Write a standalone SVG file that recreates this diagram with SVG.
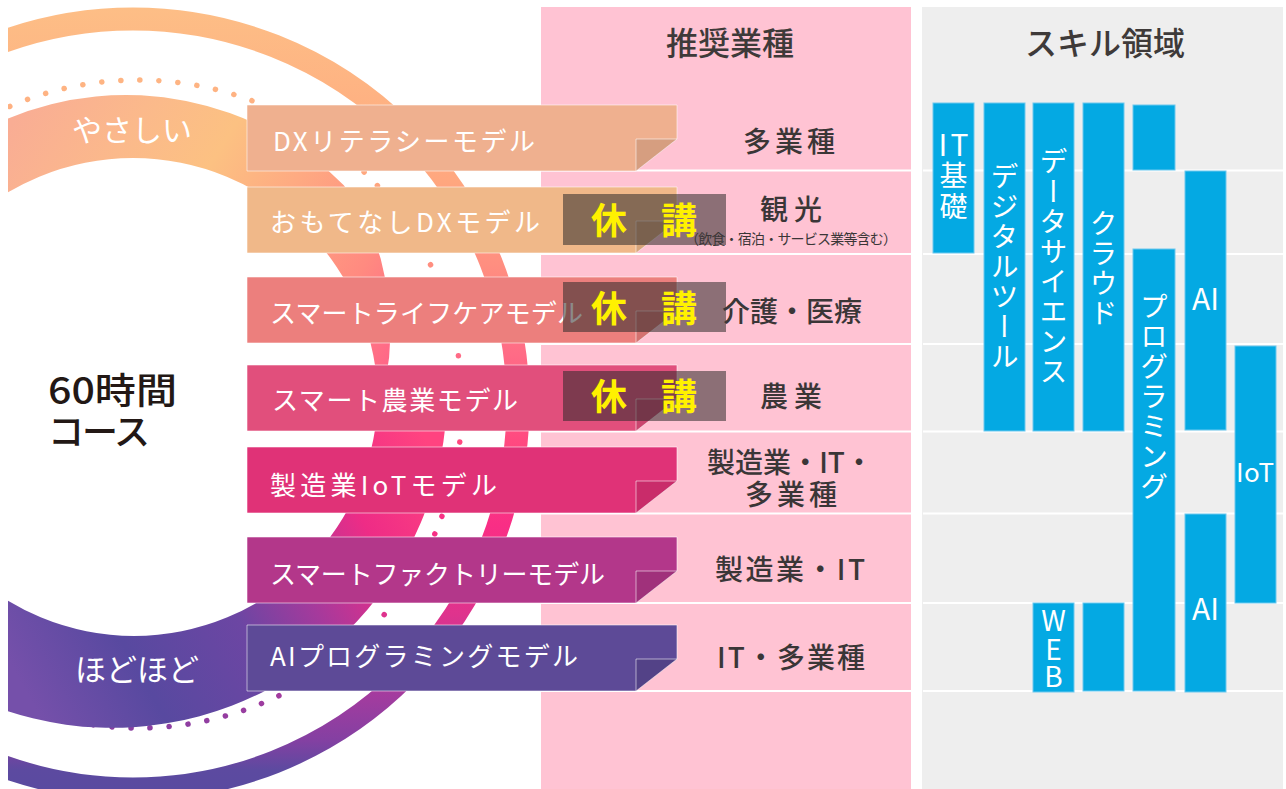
<svg xmlns="http://www.w3.org/2000/svg" width="1286" height="789" viewBox="0 0 1286 789">
  <style>
    text { font-family: 'Noto Sans CJK JP', 'Noto Sans', sans-serif; }
    .rib-label { fill: #ffffff; font-size: 26px; dominant-baseline: central; }
    .ind { fill: #3a3637; font-size: 28px; font-weight: 500; text-anchor: middle; dominant-baseline: central; }
    .head { fill: #3e3a39; font-size: 32px; font-weight: 500; text-anchor: middle; dominant-baseline: central; }
    .closed { fill: #2e2a2a; fill-opacity: 0.55; }
    .closed-t { fill: #fff100; font-size: 36px; font-weight: 700; text-anchor: middle; dominant-baseline: central; }
    .sep { stroke: #ffffff; stroke-width: 2; }
    .bar { fill: #04a9e3; stroke: #6cc8ee; stroke-width: 1; }
    .bar-t { fill: #ffffff; font-size: 28px; text-anchor: middle; dominant-baseline: central; }
    .vert { writing-mode: vertical-rl; letter-spacing: 2px; }
    .edge { fill: none; stroke: #ffffff; stroke-opacity: 0.55; stroke-width: 1; }
    .fold { fill: #000000; fill-opacity: 0.1; }
    .band-t { fill: #ffffff; font-size: 30px; text-anchor: middle; dominant-baseline: central; }
    .course { fill: #231815; font-size: 36px; font-weight: 500; dominant-baseline: central; }
  </style>
  <defs>
    <linearGradient id="ringGrad" gradientUnits="userSpaceOnUse" x1="0" y1="8" x2="0" y2="789">
      <stop offset="0" stop-color="#fdbe86"/>
      <stop offset="0.22" stop-color="#ffa77f"/>
      <stop offset="0.33" stop-color="#ff8e80"/>
      <stop offset="0.444" stop-color="#ff6b86"/>
      <stop offset="0.553" stop-color="#ff4a80"/>
      <stop offset="0.662" stop-color="#f92e85"/>
      <stop offset="0.776" stop-color="#df338d"/>
      <stop offset="0.873" stop-color="#a73b9e"/>
      <stop offset="0.937" stop-color="#8440a2"/>
      <stop offset="0.976" stop-color="#5c4aa0"/>
      <stop offset="1" stop-color="#5a4aa0"/>
    </linearGradient>
    <linearGradient id="easyGrad" gradientUnits="userSpaceOnUse" x1="8" y1="130" x2="390" y2="370">
      <stop offset="0" stop-color="#f9ad94"/>
      <stop offset="0.23" stop-color="#fbb98b"/>
      <stop offset="0.42" stop-color="#fcc182"/>
      <stop offset="0.6" stop-color="#feaa82"/>
      <stop offset="0.83" stop-color="#ff8a80"/>
      <stop offset="1" stop-color="#ff6488"/>
    </linearGradient>
    <linearGradient id="midGrad" gradientUnits="userSpaceOnUse" x1="8" y1="660" x2="420" y2="430">
      <stop offset="0" stop-color="#7550aa"/>
      <stop offset="0.23" stop-color="#5849a0"/>
      <stop offset="0.47" stop-color="#6c46a3"/>
      <stop offset="0.62" stop-color="#a53a9c"/>
      <stop offset="0.8" stop-color="#ee2c86"/>
      <stop offset="1" stop-color="#ff4380"/>
    </linearGradient>
    <clipPath id="artClip">
      <rect x="8" y="7" width="540" height="782"/>
    </clipPath>
    <!-- ribbon body with folded right corner, 430 x 66 -->
    <path id="ribbon" d="M0,0 H430 V34 L389,66 H0 Z"/>
    <path id="ribbonFold" d="M389,34 H430 L389,66 Z"/>
    <path id="ribbonCrease" d="M389,66 V34 H430"/>
  </defs>

  <!-- column backgrounds -->
  <g id="columns">
    <rect x="541" y="7" width="370" height="782" fill="#ffc3d3"/>
    <rect x="922" y="7" width="361" height="782" fill="#eeeeee"/>
  </g>

  <!-- row dividers -->
  <g id="row-lines" class="sep">
    <line x1="541" y1="170.5" x2="911" y2="170.5"/>
    <line x1="541" y1="254" x2="911" y2="254"/>
    <line x1="541" y1="344" x2="911" y2="344"/>
    <line x1="541" y1="431.5" x2="911" y2="431.5"/>
    <line x1="541" y1="513.5" x2="911" y2="513.5"/>
    <line x1="541" y1="603" x2="911" y2="603"/>
    <line x1="541" y1="691" x2="911" y2="691"/>
    <line x1="923" y1="170.5" x2="1283" y2="170.5"/>
    <line x1="923" y1="254" x2="1283" y2="254"/>
    <line x1="923" y1="344" x2="1283" y2="344"/>
    <line x1="923" y1="431.5" x2="1283" y2="431.5"/>
    <line x1="923" y1="513.5" x2="1283" y2="513.5"/>
    <line x1="923" y1="603" x2="1283" y2="603"/>
    <line x1="923" y1="691" x2="1283" y2="691"/>
  </g>

  <!-- course rings -->
  <g id="course-rings" clip-path="url(#artClip)">
    <circle cx="133" cy="404" r="385" fill="none" stroke="url(#ringGrad)" stroke-width="23"/>
    <circle cx="138" cy="404" r="324" fill="none" stroke="url(#ringGrad)" stroke-width="5.5" stroke-dasharray="0.1 19" stroke-linecap="round"/>
    <path id="band-easy" fill="url(#easyGrad)"
      d="M-182,403 A308,308 0 0 1 343.8,185.2 L361.9,209.3 L372.6,233.8 L380.7,258.8 L386.4,283.9 L389.6,308.9 L390.5,333.5 L389.1,357.5 L385.6,380.7 L380,403 L378,403 A245,245 0 0 0 -112,403 Z"/>
    <path id="band-moderate" fill="url(#midGrad)"
      d="M-110,392 A244,244 0 0 0 378,392 L447,392 A335,335 0 1 1 -222,367 Z"/>
  </g>

  <g id="label-easy"><text class="band-t" x="132" y="128">やさしい</text></g>
  <g id="label-moderate"><text class="band-t" x="137" y="667" style="font-size:31px">ほどほど</text></g>

  <g id="course-title">
    <text class="course" x="48" y="388" textLength="129" lengthAdjust="spacingAndGlyphs">60時間</text>
    <text class="course" x="48" y="429" textLength="102" lengthAdjust="spacing">コース</text>
  </g>

  <!-- model ribbons -->
  <g id="model-dx-literacy">
    <use href="#ribbon" x="247" y="105" class="edge" style="fill:#efb08f"/>
    <use href="#ribbonFold" x="247" y="105" class="fold"/>
    <use href="#ribbonCrease" x="247" y="105" class="edge"/>
    <text class="rib-label" x="273" y="139" textLength="262" lengthAdjust="spacing">DXリテラシーモデル</text>
  </g>
  <g id="model-omotenashi-dx">
    <use href="#ribbon" x="247" y="187" class="edge" style="fill:#f0b889"/>
    <use href="#ribbonFold" x="247" y="187" class="fold"/>
    <use href="#ribbonCrease" x="247" y="187" class="edge"/>
    <text class="rib-label" x="270" y="220" textLength="270" lengthAdjust="spacing">おもてなしDXモデル</text>
  </g>
  <g id="model-smart-lifecare">
    <use href="#ribbon" x="247" y="277" class="edge" style="fill:#ec7f7d"/>
    <use href="#ribbonFold" x="247" y="277" class="fold"/>
    <use href="#ribbonCrease" x="247" y="277" class="edge"/>
    <text class="rib-label" x="270" y="311" textLength="313" lengthAdjust="spacing">スマートライフケアモデル</text>
  </g>
  <g id="model-smart-agri">
    <use href="#ribbon" x="247" y="365" class="edge" style="fill:#e14f7c"/>
    <use href="#ribbonFold" x="247" y="365" class="fold"/>
    <use href="#ribbonCrease" x="247" y="365" class="edge"/>
    <text class="rib-label" x="272" y="398" textLength="246" lengthAdjust="spacing">スマート農業モデル</text>
  </g>
  <g id="model-mfg-iot">
    <use href="#ribbon" x="247" y="447" class="edge" style="fill:#e03277"/>
    <use href="#ribbonFold" x="247" y="447" class="fold"/>
    <use href="#ribbonCrease" x="247" y="447" class="edge"/>
    <text class="rib-label" x="270" y="483" textLength="227" lengthAdjust="spacing">製造業IoTモデル</text>
  </g>
  <g id="model-smart-factory">
    <use href="#ribbon" x="247" y="537" class="edge" style="fill:#b3378a"/>
    <use href="#ribbonFold" x="247" y="537" class="fold"/>
    <use href="#ribbonCrease" x="247" y="537" class="edge"/>
    <text class="rib-label" x="270" y="572" textLength="335" lengthAdjust="spacing">スマートファクトリーモデル</text>
  </g>
  <g id="model-ai-programming">
    <use href="#ribbon" x="247" y="625" class="edge" style="fill:#5d4a97"/>
    <use href="#ribbonFold" x="247" y="625" class="fold"/>
    <use href="#ribbonCrease" x="247" y="625" class="edge"/>
    <text class="rib-label" x="270" y="654" textLength="308" lengthAdjust="spacing">AIプログラミングモデル</text>
  </g>

  <!-- suspended courses -->
  <g id="suspended">
    <rect class="closed" x="563" y="194" width="163" height="51"/>
    <rect class="closed" x="563" y="282" width="163" height="50"/>
    <rect class="closed" x="563" y="371" width="163" height="50"/>
    <text class="closed-t" x="609" y="218">休</text>
    <text class="closed-t" x="679" y="218">講</text>
    <text class="closed-t" x="609" y="306">休</text>
    <text class="closed-t" x="679" y="306">講</text>
    <text class="closed-t" x="609" y="394">休</text>
    <text class="closed-t" x="679" y="394">講</text>
  </g>

  <!-- recommended industries -->
  <g id="industries">
    <text class="head" x="730" y="41">推奨業種</text>
    <text class="ind" x="789" y="140" textLength="92" lengthAdjust="spacing">多業種</text>
    <text class="ind" x="791" y="208" textLength="62" lengthAdjust="spacing">観光</text>
    <text class="ind" x="791" y="238" style="font-size:14px;font-weight:400" textLength="212" lengthAdjust="spacing">（飲食・宿泊・サービス業等含む）</text>
    <text class="ind" x="792" y="310" textLength="140" lengthAdjust="spacing">介護・医療</text>
    <text class="ind" x="791" y="395" textLength="62" lengthAdjust="spacing">農業</text>
    <text class="ind" x="790" y="461" textLength="166" lengthAdjust="spacing">製造業・IT・</text>
    <text class="ind" x="791" y="493" textLength="92" lengthAdjust="spacing">多業種</text>
    <text class="ind" x="790" y="568" textLength="150" lengthAdjust="spacing">製造業・IT</text>
    <text class="ind" x="791" y="656" textLength="148" lengthAdjust="spacing">IT・多業種</text>
  </g>

  <!-- skill areas -->
  <g id="skills">
    <text class="head" x="1105" y="41">スキル領域</text>
    <g id="skill-it-basics">
      <rect class="bar" x="933" y="103" width="41" height="150"/>
      <text class="bar-t" x="953.5" y="143" style="font-size:30px" textLength="30" lengthAdjust="spacing">IT</text>
      <text class="bar-t" x="953.5" y="174">基</text>
      <text class="bar-t" x="953.5" y="205">礎</text>
    </g>
    <g id="skill-digital-tools">
      <rect class="bar" x="984" y="103" width="41" height="328"/>
      <text class="bar-t vert" x="1004.5" y="267">デジタルツール</text>
    </g>
    <g id="skill-data-science">
      <rect class="bar" x="1033" y="103" width="41" height="328"/>
      <text class="bar-t vert" x="1053.5" y="267">データサイエンス</text>
    </g>
    <g id="skill-cloud">
      <rect class="bar" x="1083" y="103" width="41" height="328"/>
      <text class="bar-t vert" x="1103.5" y="269">クラウド</text>
    </g>
    <g id="skill-programming">
      <rect class="bar" x="1133" y="105" width="42" height="65"/>
      <rect class="bar" x="1133" y="249" width="42" height="442"/>
      <text class="bar-t vert" x="1154" y="397">プログラミング</text>
    </g>
    <g id="skill-ai">
      <rect class="bar" x="1185" y="171" width="41" height="259"/>
      <text class="bar-t" x="1205.5" y="297" style="font-size:30px">AI</text>
      <rect class="bar" x="1185" y="514" width="41" height="178"/>
      <text class="bar-t" x="1205.5" y="607" style="font-size:30px">AI</text>
    </g>
    <g id="skill-iot">
      <rect class="bar" x="1235" y="346" width="41" height="257"/>
      <text class="bar-t" x="1255" y="470" style="font-size:26px" textLength="38" lengthAdjust="spacing">IoT</text>
    </g>
    <g id="skill-web">
      <rect class="bar" x="1033" y="603" width="41" height="89"/>
      <text class="bar-t" x="1053.5" y="619" style="font-size:28px">W</text>
      <text class="bar-t" x="1053.5" y="648" style="font-size:28px">E</text>
      <text class="bar-t" x="1053.5" y="675" style="font-size:28px">B</text>
    </g>
    <g id="skill-cloud-web">
      <rect class="bar" x="1083" y="603" width="41" height="88"/>
    </g>
  </g>
</svg>
